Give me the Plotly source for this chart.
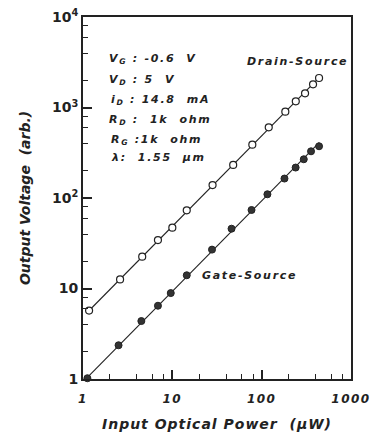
import plotly.graph_objects as go

# Data (input optical power in µW, output voltage arb.)
ds_power = [1.17, 2.6, 4.6, 6.9, 10, 14.5, 28.2, 48, 78.6, 120, 184, 241, 306, 376, 439]
ds_voltage = [5.7, 12.6, 22.5, 34.3, 47, 73, 139, 232, 388, 604, 899, 1170, 1435, 1804, 2118]
gs_power = [1.12, 2.5, 4.5, 6.9, 9.6, 14.5, 27.8, 46, 77, 116, 180, 240, 296, 357, 439]
gs_voltage = [1.02, 2.36, 4.37, 6.45, 8.9, 14, 26.9, 45.8, 73.7, 110, 164, 217, 268, 328, 373]
# fitted unity-slope lines
ds_fit_power = [1.1, 440]
ds_fit_voltage = [5.36, 2143]
gs_fit_power = [1.0, 440]
gs_fit_voltage = [0.93, 409]

x_tickvals = [1, 10, 100, 1000]
x_ticktext = ["1", "10", "100", "1000"]
x_minor = [2, 4, 6, 8, 20, 40, 60, 80, 200, 400, 600, 800]
y_tickvals = [1, 10, 100, 1000, 10000]
y_ticktext = ["1", "10", "10<sup>2</sup>", "10<sup>3</sup>", "10<sup>4</sup>"]
y_minor = [2, 4, 6, 8, 20, 40, 60, 80, 200, 400, 600, 800, 2000, 4000, 6000, 8000]

cond_lines = ["V<sub>G</sub> : -0.6  V", "V<sub>D</sub> : 5  V", "i<sub>D</sub> : 14.8  mA",
              "R<sub>D</sub> :  1k  ohm", "R<sub>G</sub> :1k  ohm", "λ:  1.55  µm"]

FONT = "DejaVu Sans"
INK = "#222"
fig = go.Figure()
fig.add_trace(go.Scatter(x=ds_fit_power, y=ds_fit_voltage, mode="lines",
                         line=dict(color=INK, width=1.1), showlegend=False, hoverinfo="skip"))
fig.add_trace(go.Scatter(x=gs_fit_power, y=gs_fit_voltage, mode="lines",
                         line=dict(color=INK, width=1.1), showlegend=False, hoverinfo="skip"))
fig.add_trace(go.Scatter(x=ds_power, y=ds_voltage, mode="markers",
                         marker=dict(symbol="circle", size=7, color="white",
                                     line=dict(color=INK, width=1.2)),
                         showlegend=False, cliponaxis=False))
fig.add_trace(go.Scatter(x=gs_power, y=gs_voltage, mode="markers",
                         marker=dict(symbol="circle", size=7, color="#333",
                                     line=dict(color=INK, width=1)),
                         showlegend=False, cliponaxis=False))

ys = [59, 80, 100, 120, 140, 158]
xs = [107, 107, 109, 107, 109, 109]
for t, yp, xp in zip(cond_lines, ys, xs):
    fig.add_annotation(text=t, xref="paper", yref="paper", align="left",
                       x=(xp - 83) / 268, y=(379 - yp) / 362, xanchor="left", yanchor="middle",
                       showarrow=False, font=dict(family=FONT, size=11, color=INK, style="italic", weight="bold"))

fig.add_annotation(text="Drain-Source", xref="paper", yref="paper", align="left",
                   x=(245 - 83) / 268, y=(379 - 62) / 362, xanchor="left", yanchor="middle",
                   showarrow=False, font=dict(family=FONT, size=11, color=INK, style="italic", weight="bold"))
fig.add_annotation(text="Gate-Source", xref="paper", yref="paper", align="left",
                   x=(200 - 83) / 268, y=(379 - 275) / 362, xanchor="left", yanchor="middle",
                   showarrow=False, font=dict(family=FONT, size=11, color=INK, style="italic", weight="bold"))

fig.update_layout(
    width=375, height=436,
    margin=dict(l=83, r=24, t=17, b=57),
    paper_bgcolor="white", plot_bgcolor="white",
    font=dict(family=FONT, color=INK),
    xaxis=dict(type="log", range=[0, 3], tickvals=x_tickvals, ticktext=x_ticktext, automargin=False,
               ticks="inside", ticklen=9, tickwidth=1.5, tickcolor=INK, ticklabelstandoff=8,
               minor=dict(tickvals=x_minor, ticks="inside", ticklen=5, tickwidth=1.3, tickcolor=INK),
               showline=True, linecolor=INK, linewidth=1.8, mirror=True, showgrid=False, zeroline=False,
               tickfont=dict(family=FONT, size=12, style="italic", weight="bold", color=INK),
               title=dict(text="Input Optical Power  (µW)", standoff=14,
                          font=dict(family=FONT, size=14, style="italic", weight="bold", color=INK))),
    yaxis=dict(type="log", range=[0, 4], tickvals=y_tickvals, ticktext=y_ticktext, automargin=False,
               ticks="inside", ticklen=9, tickwidth=1.5, tickcolor=INK,
               minor=dict(tickvals=y_minor, ticks="inside", ticklen=5, tickwidth=1.3, tickcolor=INK),
               showline=True, linecolor=INK, linewidth=1.8, mirror=True, showgrid=False, zeroline=False,
               tickfont=dict(family=FONT, size=14, weight="bold", color=INK),
               title=dict(text="Output Voltage  (arb.)", standoff=18,
                          font=dict(family=FONT, size=14, style="italic", weight="bold", color=INK))),
)

post = """
document.body.style.margin = '0';
document.body.style.overflow = 'hidden';
document.querySelectorAll('.annotation-text').forEach(function(e){ e.style.letterSpacing = '1.7px'; });
document.querySelectorAll('.xtick text').forEach(function(e){ e.style.letterSpacing = '1.5px'; });
document.querySelectorAll('.xtitle').forEach(function(e){ e.style.letterSpacing = '1px'; });
"""
fig.write_html("out.html", post_script=post, config={"displayModeBar": False})
